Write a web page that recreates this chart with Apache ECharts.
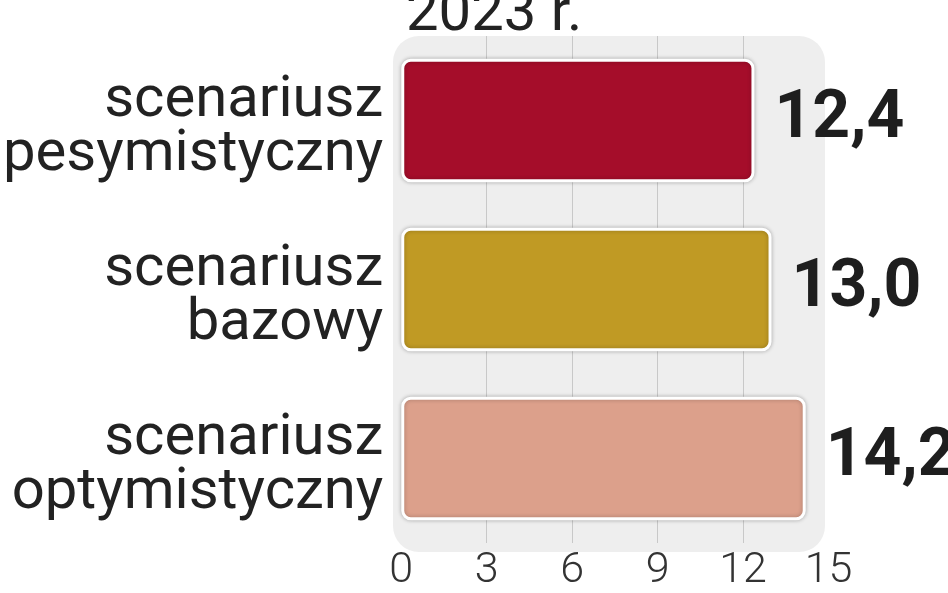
<!DOCTYPE html>
<html>
<head>
<meta charset="utf-8">
<script src="https://cdn.jsdelivr.net/npm/echarts@6/dist/echarts.min.js"></script>
<style>
  html, body { margin: 0; padding: 0; background: #fff; }
  #chart { width: 948px; height: 593px; }
</style>
</head>
<body>
<div id="chart"></div>
<script>
// dane z wykresu
var categories = ['scenariusz\npesymistyczny', 'scenariusz\nbazowy', 'scenariusz\noptymistyczny'];
var values = [12.4, 13.0, 14.2];
var barColors = ['#a50d2a', '#c09a24', '#dca08b'];
var titleText = '2023 r.';

var myChart = echarts.init(document.getElementById('chart'));

myChart.setOption({
  backgroundColor: '#fff',
  animation: false,
  graphic: [
    {
      // szare tło pod wykresem
      type: 'rect',
      z: -10,
      shape: { x: 393, y: 36, width: 432, height: 516, r: 26 },
      style: { fill: '#eeeeee' }
    },
    {
      type: 'text',
      left: 406,
      top: -14,
      style: {
        text: titleText,
        font: '400 58px Roboto, sans-serif',
        fill: '#222'
      }
    }
  ],
  grid: {
    left: 400,
    right: 119.5,
    top: 36,
    bottom: 42,
    containLabel: false
  },
  xAxis: {
    type: 'value',
    min: 0,
    max: 15,
    interval: 3,
    axisLine: { show: false },
    axisTick: { show: false },
    splitLine: {
      show: true,
      showMinLine: false,
      showMaxLine: false,
      lineStyle: { color: '#c8c8c8', width: 1 }
    },
    axisLabel: {
      margin: 7,
      color: '#333',
      fontFamily: 'Roboto',
      fontWeight: 300,
      fontSize: 43
    }
  },
  yAxis: {
    type: 'category',
    inverse: true,
    data: categories,
    axisLine: { show: false },
    axisTick: { show: false },
    axisLabel: {
      margin: 18,
      align: 'right',
      // pusta linia u góry przesuwa tekst trochę w dół
      formatter: function (v) {
        var parts = v.split('\n');
        return '{s| }\n{a|' + parts[0] + '}\n{a|' + parts[1] + '}';
      },
      rich: {
        s: { fontSize: 8, lineHeight: 16 },
        a: {
          color: '#222',
          fontFamily: 'Roboto',
          fontSize: 58,
          lineHeight: 54
        }
      }
    }
  },
  series: [
    {
      type: 'bar',
      barWidth: '73%',
      data: values.map(function (v, i) {
        return { value: v, itemStyle: { color: barColors[i] } };
      }),
      itemStyle: {
        borderColor: '#fff',
        borderWidth: 3,
        borderRadius: 8,
        shadowBlur: 4,
        shadowColor: 'rgba(0,0,0,0.25)'
      },
      label: {
        show: true,
        position: 'right',
        distance: 20,
        color: '#1e1e1e',
        fontFamily: 'Roboto, sans-serif',
        fontWeight: 'bold',
        fontSize: 66,
        formatter: function (p) {
          return p.value.toFixed(1).replace('.', ',');
        }
      }
    }
  ]
});

window.onresize = function () {
  myChart.resize();
};
</script>
</body>
</html>
